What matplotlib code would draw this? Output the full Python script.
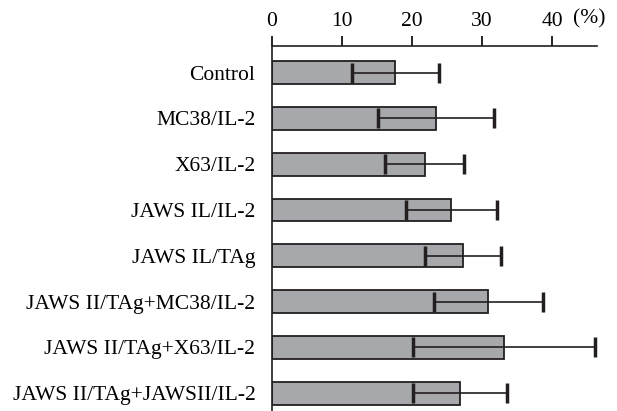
import numpy as np
import matplotlib.pyplot as plt
from matplotlib.transforms import blended_transform_factory

# groups, top to bottom
groups = ["Control", "MC38/IL-2", "X63/IL-2", "JAWS IL/IL-2", "JAWS IL/TAg",
          "JAWS II/TAg+MC38/IL-2", "JAWS II/TAg+X63/IL-2", "JAWS II/TAg+JAWSII/IL-2"]
means = [17.6, 23.4, 21.8, 25.6, 27.3, 30.9, 33.1, 26.9]
sd = [6.2, 8.3, 5.6, 6.5, 5.4, 7.8, 13.0, 6.7]
xticks = [0, 10, 20, 30, 40]

plt.rcParams['font.family'] = ['Liberation Serif', 'DejaVu Serif']
plt.rcParams['font.size'] = 15.5

fig = plt.figure(figsize=(6.17, 4.11), dpi=100)
ax = fig.add_axes([272/617, 0.0, (597-272)/617, 1 - 46/411])

y = np.arange(len(groups))
ax.barh(y, means, height=0.5, color='#a7a8ab', edgecolor='#231f20', linewidth=1.3, zorder=2)
ax.errorbar(means, y, xerr=sd, fmt='none', ecolor='#231f20', elinewidth=1.2,
            capsize=7, capthick=2.5, zorder=3)

ax.set_xlim(0, 46.4)
ax.set_ylim(7.39, -0.58)
ax.set_yticks(y)
ax.set_yticklabels(groups)
ax.tick_params(axis='y', length=0, pad=12)

ax.xaxis.tick_top()
ax.set_xticks(xticks)
ax.tick_params(axis='x', direction='out', length=7, width=1.2, pad=4)

for s in ['right', 'bottom']:
    ax.spines[s].set_visible(False)
for s in ['top', 'left']:
    ax.spines[s].set_linewidth(1.2)
    ax.spines[s].set_color('#231f20')

trans = blended_transform_factory(ax.transData, fig.transFigure)
ax.text(45.3, 1 - 19/411, "(%)", transform=trans, ha='center', va='center')

fig.savefig("out.png", dpi=100)
